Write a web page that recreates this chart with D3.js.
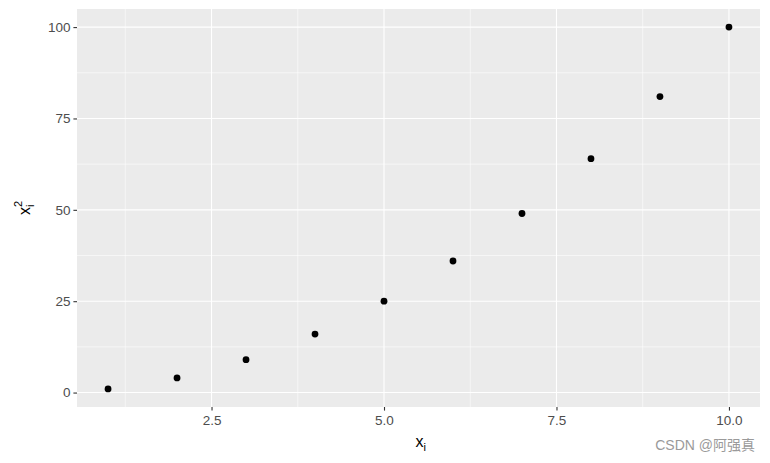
<!DOCTYPE html>
<html><head><meta charset="utf-8">
<script src="https://cdn.jsdelivr.net/npm/d3@7"></script>
<style>body{margin:0;background:#fff}svg{display:block}</style>
</head><body>
<svg id="c" width="770" height="463"></svg>
<script>
const xs = [1,2,3,4,5,6,7,8,9,10];
const ys = [1,4,9,16,25,36,49,64,81,100];
const xTicks = [2.5,5.0,7.5,10.0];
const yTicks = [0,25,50,75,100];
const xMinor = [1.25,3.75,6.25,8.75];
const yMinor = [12.5,37.5,62.5,87.5];

const svg = d3.select("#c");
const L=77,R=760,T=9,B=407;
const x = d3.scaleLinear().domain([0.55,10.45]).range([L,R]);
const y = d3.scaleLinear().domain([-3.95,104.95]).range([B,T]);
const font="'Liberation Sans', Arial, sans-serif";

svg.append("rect").attr("x",L).attr("y",T).attr("width",R-L).attr("height",B-T).attr("fill","#EBEBEB");
const g=svg.append("g");
g.selectAll(".xm").data(xMinor).join("line").attr("x1",d=>x(d)).attr("x2",d=>x(d)).attr("y1",T).attr("y2",B).attr("stroke","#fff").attr("stroke-width",0.55);
g.selectAll(".ym").data(yMinor).join("line").attr("y1",d=>y(d)).attr("y2",d=>y(d)).attr("x1",L).attr("x2",R).attr("stroke","#fff").attr("stroke-width",0.55);
g.selectAll(".xM").data(xTicks).join("line").attr("x1",d=>x(d)).attr("x2",d=>x(d)).attr("y1",T).attr("y2",B).attr("stroke","#fff").attr("stroke-width",1.1);
g.selectAll(".yM").data(yTicks).join("line").attr("y1",d=>y(d)).attr("y2",d=>y(d)).attr("x1",L).attr("x2",R).attr("stroke","#fff").attr("stroke-width",1.1);

svg.selectAll("circle").data(xs).join("circle").attr("cx",d=>x(d)).attr("cy",(d,i)=>y(ys[i])).attr("r",3.4).attr("fill","#000");

const xa = svg.append("g").attr("transform",`translate(0,${B})`)
  .call(d3.axisBottom(x).tickValues(xTicks).tickFormat(d3.format(".1f")).tickSize(3.6).tickPadding(3));
const ya = svg.append("g").attr("transform",`translate(${L},0)`)
  .call(d3.axisLeft(y).tickValues(yTicks).tickFormat(d3.format("d")).tickSize(3.6).tickPadding(3));
[xa,ya].forEach(a=>{
  a.attr("font-size",null).attr("font-family",null);
  a.select(".domain").remove();
  a.selectAll(".tick line").attr("stroke","#333").attr("stroke-width",1.1);
  a.selectAll(".tick text").attr("fill","#4D4D4D").attr("font-family",font).attr("font-size",13.5);
});
xa.selectAll(".tick text").attr("dy","0.85em");

const xt = svg.append("text").attr("x",(L+R)/2-3).attr("y",447).attr("font-family",font).attr("font-size",16).attr("fill","#000");
xt.append("tspan").text("x");
xt.append("tspan").attr("dy",4).attr("font-size",11).text("i");

const yt = svg.append("text").attr("transform",`translate(30,${(T+B)/2}) rotate(-90)`).attr("text-anchor","middle").attr("font-family",font).attr("font-size",16).attr("fill","#000");
yt.append("tspan").text("x");
yt.append("tspan").attr("dy",-8).attr("font-size",11).text("2");
yt.append("tspan").attr("dx",-6).attr("dy",12).attr("font-size",11).text("i");

svg.append("text").attr("x",755).attr("y",450).attr("text-anchor","end").attr("font-family","'Liberation Sans','Noto Sans CJK SC',sans-serif").attr("font-size",14).attr("fill","#9a9a9a").text("CSDN @阿强真");
</script>
</body></html>
